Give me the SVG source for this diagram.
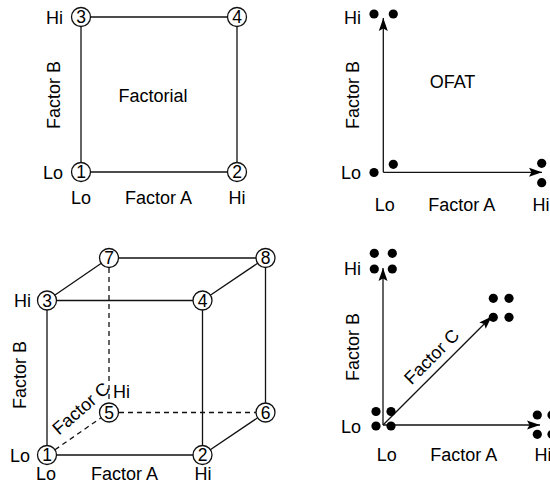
<svg xmlns="http://www.w3.org/2000/svg" width="550" height="491" viewBox="0 0 550 491">
<style>
text{font-family:"Liberation Sans",Arial,Helvetica,sans-serif;fill:#000}
.t{font-size:18px}
.m{text-anchor:middle}
.e{text-anchor:end}
.n{font-size:17.5px;text-anchor:middle}
.ln{stroke:#111;stroke-width:1.3;fill:none}
.dash{stroke:#111;stroke-width:1.3;fill:none;stroke-dasharray:5 4}
.ax{stroke:#111;stroke-width:1.3;fill:none;marker-end:url(#arr)}
.c{fill:#fff;stroke:#111;stroke-width:1.3}
.d{fill:#000}
</style>
<defs>
<marker id="arr" markerUnits="userSpaceOnUse" markerWidth="14" markerHeight="10" refX="13" refY="5" orient="auto">
<path d="M0,0.5 L13,5 L0,9.5 L2.5,5 z" fill="#000"/>
</marker>
</defs>

<!-- Panel 1: Factorial -->
<g id="p1-connectors">
<line class="ln" x1="81" y1="17" x2="237" y2="17"/>
<line class="ln" x1="81" y1="172" x2="237" y2="172"/>
<line class="ln" x1="81" y1="17" x2="81" y2="172"/>
<line class="ln" x1="237" y1="17" x2="237" y2="172"/>
</g>
<g id="p1-n1"><circle class="c" cx="81" cy="172" r="9.5"/><text class="n" x="81" y="178.2">1</text></g>
<g id="p1-n2"><circle class="c" cx="237" cy="172" r="9.5"/><text class="n" x="237" y="178.2">2</text></g>
<g id="p1-n3"><circle class="c" cx="81" cy="17" r="9.5"/><text class="n" x="81" y="23.2">3</text></g>
<g id="p1-n4"><circle class="c" cx="237" cy="17" r="9.5"/><text class="n" x="237" y="23.2">4</text></g>
<g id="p1-labels">
<text class="t e" x="63" y="23.5">Hi</text>
<text class="t e" x="63" y="178.5">Lo</text>
<text class="t m" x="81" y="204">Lo</text>
<text class="t m" x="158.5" y="204">Factor A</text>
<text class="t m" x="237" y="204">Hi</text>
<text class="t m" transform="translate(60,95) rotate(-90)">Factor B</text>
<text class="t m" x="153" y="101.5">Factorial</text>
</g>

<!-- Panel 2: OFAT -->
<g id="p2-connectors">
<line class="ax" x1="383.3" y1="172.3" x2="383.3" y2="18"/>
<line class="ax" x1="383.3" y1="172.3" x2="542" y2="172.3"/>
</g>
<g id="p2-points">
<circle class="d" cx="374" cy="14" r="4.6"/>
<circle class="d" cx="393.3" cy="14" r="4.6"/>
<circle class="d" cx="374" cy="172.5" r="4.6"/>
<circle class="d" cx="393.3" cy="164.3" r="4.6"/>
<circle class="d" cx="541.7" cy="163.3" r="4.6"/>
<circle class="d" cx="541.7" cy="182.7" r="4.6"/>
</g>
<g id="p2-labels">
<text class="t e" x="361" y="23.5">Hi</text>
<text class="t e" x="361" y="178.5">Lo</text>
<text class="t m" x="384.7" y="210.5">Lo</text>
<text class="t m" x="461.7" y="210.5">Factor A</text>
<text class="t m" x="541" y="210.5">Hi</text>
<text class="t m" transform="translate(358.5,95) rotate(-90)">Factor B</text>
<text class="t m" x="452.5" y="88.3">OFAT</text>
</g>

<!-- Panel 3: cube -->
<g id="p3-connectors">
<line class="ln" x1="47" y1="300.5" x2="202.5" y2="300.5"/>
<line class="ln" x1="47" y1="455" x2="202.5" y2="455"/>
<line class="ln" x1="47" y1="300.5" x2="47" y2="455"/>
<line class="ln" x1="202.5" y1="300.5" x2="202.5" y2="455"/>
<line class="ln" x1="109" y1="258" x2="265.5" y2="258"/>
<line class="ln" x1="265.5" y1="258" x2="265.5" y2="412.5"/>
<line class="ln" x1="47" y1="300.5" x2="109" y2="258"/>
<line class="ln" x1="202.5" y1="300.5" x2="265.5" y2="258"/>
<line class="ln" x1="202.5" y1="455" x2="265.5" y2="412.5"/>
<line class="dash" x1="109" y1="268" x2="109" y2="403"/>
<line class="dash" x1="119" y1="412.5" x2="256" y2="412.5"/>
<line class="dash" x1="55" y1="449.7" x2="101" y2="417.8"/>
</g>
<g id="p3-n1"><circle class="c" cx="47" cy="455" r="9.5"/><text class="n" x="47" y="461.2">1</text></g>
<g id="p3-n2"><circle class="c" cx="202.5" cy="455" r="9.5"/><text class="n" x="202.5" y="461.2">2</text></g>
<g id="p3-n3"><circle class="c" cx="47" cy="300.5" r="9.5"/><text class="n" x="47" y="306.7">3</text></g>
<g id="p3-n4"><circle class="c" cx="202.5" cy="300.5" r="9.5"/><text class="n" x="202.5" y="306.7">4</text></g>
<g id="p3-n5"><circle class="c" cx="109" cy="412.5" r="9.5"/><text class="n" x="109" y="418.7">5</text></g>
<g id="p3-n6"><circle class="c" cx="265.5" cy="412.5" r="9.5"/><text class="n" x="265.5" y="418.7">6</text></g>
<g id="p3-n7"><circle class="c" cx="109" cy="258" r="9.5"/><text class="n" x="109" y="264.2">7</text></g>
<g id="p3-n8"><circle class="c" cx="265.5" cy="258" r="9.5"/><text class="n" x="265.5" y="264.2">8</text></g>
<g id="p3-labels">
<text class="t e" x="31" y="307">Hi</text>
<text class="t e" x="30" y="461.5">Lo</text>
<text class="t m" x="46" y="479.5">Lo</text>
<text class="t m" x="124.5" y="479.5">Factor A</text>
<text class="t m" x="203" y="479.5">Hi</text>
<text class="t m" transform="translate(25.5,375) rotate(-90)">Factor B</text>
<text class="t m" transform="translate(85,413) rotate(-41)">Factor C</text>
<text class="t" x="113" y="398">Hi</text>
</g>

<!-- Panel 4: OFAT 3 factors -->
<g id="p4-connectors">
<line class="ax" x1="383" y1="425" x2="383" y2="268"/>
<line class="ax" x1="383" y1="425" x2="540" y2="425"/>
<line class="ax" x1="383" y1="425" x2="491.7" y2="316.5"/>
</g>
<g id="p4-points">
<circle class="d" cx="374.3" cy="253.3" r="4.6"/>
<circle class="d" cx="392.3" cy="253.3" r="4.6"/>
<circle class="d" cx="374.3" cy="269" r="4.6"/>
<circle class="d" cx="392.3" cy="269" r="4.6"/>
<circle class="d" cx="376" cy="411.5" r="4.6"/>
<circle class="d" cx="391" cy="411.5" r="4.6"/>
<circle class="d" cx="376" cy="426" r="4.6"/>
<circle class="d" cx="391" cy="426" r="4.6"/>
<circle class="d" cx="493.3" cy="298.3" r="4.6"/>
<circle class="d" cx="509" cy="298.3" r="4.6"/>
<circle class="d" cx="493.3" cy="317.3" r="4.6"/>
<circle class="d" cx="509" cy="317.3" r="4.6"/>
<circle class="d" cx="537.3" cy="415" r="4.6"/>
<circle class="d" cx="552" cy="415" r="4.6"/>
<circle class="d" cx="537.3" cy="434.3" r="4.6"/>
<circle class="d" cx="552" cy="434.3" r="4.6"/>
</g>
<g id="p4-labels">
<text class="t e" x="361" y="275">Hi</text>
<text class="t e" x="361" y="433">Lo</text>
<text class="t m" x="386.7" y="461">Lo</text>
<text class="t m" x="463.8" y="461">Factor A</text>
<text class="t m" x="543" y="461">Hi</text>
<text class="t m" transform="translate(358.5,347) rotate(-90)">Factor B</text>
<text class="t m" transform="translate(436,361) rotate(-45)">Factor C</text>
</g>
</svg>
